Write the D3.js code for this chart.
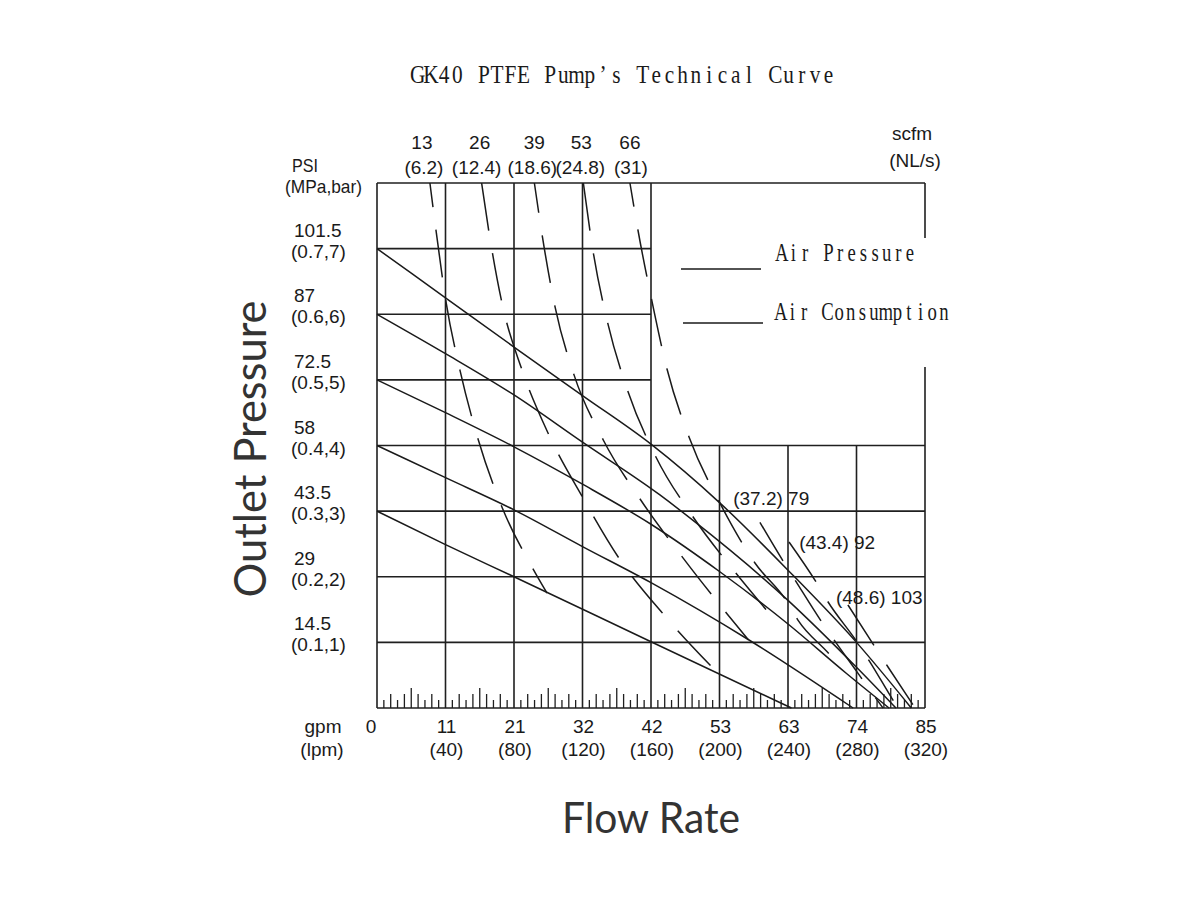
<!DOCTYPE html>
<html>
<head>
<meta charset="utf-8">
<title>GK40 PTFE Pump's Technical Curve</title>
<style>
  body { margin: 0; background: #fff; }
  text { fill: #1a1a1a; }
  .lbl { font-family: "Liberation Sans", Arial, sans-serif; font-size: 19px; }
  .serif { font-family: "Liberation Serif", "DejaVu Serif", serif; }
  .big { font-family: Lato, "Open Sans", sans-serif; fill: #333; }
</style>
</head>
<body>
<div id="chart"></div>
<script src="https://d3js.org/d3.v7.min.js"></script>
<script>

// flow axis: lpm gridlines and the gpm numbers printed above them
const flowTicks = [40, 80, 120, 160, 200, 240, 280, 320];
const gpmTicks = ["11", "21", "32", "42", "53", "63", "74", "85"];

// outlet pressure axis: MPa gridlines, PSI and (MPa,bar) labels
const pressTicks = [0.7, 0.6, 0.5, 0.4, 0.3, 0.2, 0.1];
const psiTicks = ["101.5", "87", "72.5", "58", "43.5", "29", "14.5"];
const barTicks = ["(0.7,7)", "(0.6,6)", "(0.5,5)", "(0.4,4)", "(0.3,3)", "(0.2,2)", "(0.1,1)"];

// air pressure curves, [lpm, MPa]
const press70 = [[0,0.70],[40,0.625],[80,0.55],[120,0.476],[160,0.402],[200,0.313],[240,0.21],[280,0.10],[312,0]];
const press60 = [[0,0.60],[40,0.54],[80,0.477],[120,0.405],[165,0.325],[184,0.287],[240,0.164],[280,0.062],[303,0]];
const press50 = [[0,0.50],[40,0.45],[80,0.398],[120,0.341],[160,0.28],[200,0.208],[240,0.128],[274,0.053],[299,0]];
const press40 = [[0,0.40],[40,0.351],[80,0.302],[120,0.246],[160,0.191],[217,0.104],[278,0]];
const press30 = [[0,0.30],[40,0.249],[80,0.2],[160,0.101],[242,0]];

// air consumption curves, [lpm, MPa]
const scfm13 = [[30.9,0.8],[34.5,0.727],[40.3,0.619],[48.5,0.514],[59,0.41],[73,0.306],[91.1,0.212],[99.3,0.175]];
const scfm26 = [[61.1,0.8],[65.4,0.725],[73,0.617],[84.7,0.515],[100.4,0.416],[120.3,0.32],[141.9,0.226],[168.2,0.14],[198,0.056]];
const scfm39 = [[91.9,0.8],[96.6,0.718],[104,0.611],[115,0.508],[132.2,0.408],[154,0.317],[178.9,0.228],[204.6,0.143],[216.8,0.104]];
const scfm53 = [[120.5,0.8],[126.3,0.694],[134.7,0.587],[146.4,0.4835],[162.3,0.3855],[184.7,0.2906],[210,0.2042],[227.2,0.15]];
const scfm66 = [[147.7,0.8],[152.4,0.728],[160.4,0.622],[169.3,0.517],[182.2,0.413],[201.5,0.306],[220.7,0.221],[239.4,0.162],[245.8,0.134],[264.5,0.081],[270.4,0.0625]];
const scfm79 = [[223.6,0.283],[237.1,0.224],[244.1,0.195],[259.3,0.1326],[267.4,0.102],[280.3,0.055],[287.9,0.027],[295.5,0]];
const scfm92 = [[240.6,0.253],[256.4,0.192],[263.4,0.1615],[280.3,0.1006],[287.9,0.07],[301.3,0.012],[304.2,0]];
const scfm103 = [[275,0.157],[290.8,0.093],[298.4,0.0625],[314.2,0]];

const topCurves = [
  {scfm: "13", nls: "(6.2)", pts: scfm13},
  {scfm: "26", nls: "(12.4)", pts: scfm26},
  {scfm: "39", nls: "(18.6)", pts: scfm39},
  {scfm: "53", nls: "(24.8)", pts: scfm53},
  {scfm: "66", nls: "(31)", pts: scfm66}
];
const innerCurves = [
  {scfm: "79", nls: "(37.2)", pts: scfm79},
  {scfm: "92", nls: "(43.4)", pts: scfm92},
  {scfm: "103", nls: "(48.6)", pts: scfm103}
];

// layout bits: dash phase per consumption line, label nudges and anchors
const topDashOffset = [24, 0, 18, 0, 24];
const innerDashOffset = [3, 0, 0];
const topLabelNudge = [[-8, -6], [-2, -5], [0, -2], [-2, -3], [0, 1]];
const innerLabelAt = [[208, 0.309], [246.5, 0.242], [268, 0.158]];

const svg = d3.select("#chart")
  .append("svg")
    .attr("width", 1200)
    .attr("height", 900);

const x = d3.scaleLinear().domain([0, 320]).range([377, 925]);
const y = d3.scaleLinear().domain([0, 0.8]).range([708, 183]);

const grid = svg.append("g")
  .attr("stroke", "#1f1f1f")
  .attr("stroke-width", 1.6);

// vertical gridlines: full height up to 160 lpm, lower half beyond
flowTicks.slice(0, 7).forEach(v => {
  grid.append("line")
    .attr("x1", x(v)).attr("x2", x(v))
    .attr("y1", y(0)).attr("y2", v <= 160 ? y(0.8) : y(0.4));
});

// horizontal gridlines: upper ones stop at 160 lpm where the legend sits
pressTicks.forEach(p => {
  grid.append("line")
    .attr("x1", x(0)).attr("x2", p > 0.45 ? x(160) : x(320))
    .attr("y1", y(p)).attr("y2", y(p));
});

// frame, the right edge is broken by the legend
grid.append("line").attr("x1", x(0)).attr("x2", x(0)).attr("y1", y(0)).attr("y2", y(0.8));
grid.append("line").attr("x1", x(0)).attr("x2", x(320)).attr("y1", y(0)).attr("y2", y(0));
grid.append("line").attr("x1", x(0)).attr("x2", x(320)).attr("y1", y(0.8)).attr("y2", y(0.8));
grid.append("line").attr("x1", x(320)).attr("x2", x(320)).attr("y1", y(0.8)).attr("y2", 238);
grid.append("line").attr("x1", x(320)).attr("x2", x(320)).attr("y1", 292).attr("y2", 297);
grid.append("line").attr("x1", x(320)).attr("x2", x(320)).attr("y1", 367).attr("y2", y(0));

// minor ticks along the flow axis, every 4 lpm
const minor = d3.range(4, 320, 4).filter(v => v % 40 !== 0);
svg.append("g")
  .selectAll("line")
  .data(minor)
  .join("line")
    .attr("x1", d => x(d)).attr("x2", d => x(d))
    .attr("y1", y(0))
    .attr("y2", d => y(0) - (d % 40 === 20 ? 20 : (d % 8 === 0 ? 14 : 8)))
    .attr("stroke", "#1f1f1f")
    .attr("stroke-width", 1.3);

const line = d3.line()
  .x(d => x(d[0]))
  .y(d => y(d[1]))
  .curve(d3.curveMonotoneX);

// air pressure curves
svg.append("g")
  .selectAll("path")
  .data([press70, press60, press50, press40, press30])
  .join("path")
    .attr("d", line)
    .attr("fill", "none")
    .attr("stroke", "#1a1a1a")
    .attr("stroke-width", 1.5);

// air consumption curves, long dashes
svg.append("g")
  .selectAll("path")
  .data(topCurves.concat(innerCurves))
  .join("path")
    .attr("d", d => line(d.pts))
    .attr("fill", "none")
    .attr("stroke", "#1a1a1a")
    .attr("stroke-width", 1.5)
    .attr("stroke-dasharray", "48 23")
    .attr("stroke-dashoffset", (d, i) => topDashOffset.concat(innerDashOffset)[i]);

// scfm labels above the top frame
const topLbl = svg.append("g").attr("class", "lbl").attr("text-anchor", "middle");
topCurves.forEach((c, i) => {
  topLbl.append("text").attr("x", x(c.pts[0][0]) + topLabelNudge[i][0]).attr("y", 149).text(c.scfm);
  topLbl.append("text").attr("x", x(c.pts[0][0]) + topLabelNudge[i][1]).attr("y", 174).text(c.nls);
});
topLbl.append("text").attr("x", 912).attr("y", 140).text("scfm");
topLbl.append("text").attr("x", 915).attr("y", 167).text("(NL/s)");

// labels of the curves that start inside the plot
innerCurves.forEach((c, i) => {
  svg.append("text")
    .attr("class", "lbl")
    .attr("x", x(innerLabelAt[i][0]))
    .attr("y", y(innerLabelAt[i][1]))
    .text(c.nls + " " + c.scfm);
});

// pressure labels on the left
const leftLbl = svg.append("g").attr("class", "lbl");
leftLbl.append("text").attr("x", 292).attr("y", 172)
  .attr("textLength", 26).attr("lengthAdjust", "spacingAndGlyphs").text("PSI");
leftLbl.append("text").attr("x", 285).attr("y", 193)
  .attr("textLength", 77).attr("lengthAdjust", "spacingAndGlyphs").text("(MPa,bar)");
pressTicks.forEach((p, i) => {
  leftLbl.append("text").attr("x", 294).attr("y", y(p) - 12).text(psiTicks[i]);
  leftLbl.append("text").attr("x", 291).attr("y", y(p) + 9).text(barTicks[i]);
});

// flow labels below
const botLbl = svg.append("g").attr("class", "lbl").attr("text-anchor", "middle");
botLbl.append("text").attr("x", 323).attr("y", 733).text("gpm");
botLbl.append("text").attr("x", 322).attr("y", 756).text("(lpm)");
botLbl.append("text").attr("x", x(0) - 6).attr("y", 733).text("0");
flowTicks.forEach((v, i) => {
  botLbl.append("text").attr("x", x(v) + 1).attr("y", 733).text(gpmTicks[i]);
  botLbl.append("text").attr("x", x(v) + 1).attr("y", 756).text("(" + v + ")");
});

// serif text set in fixed-width cells, like the original CJK system font
function monoText(str, x0, base, cell, size, sx) {
  svg.append("text")
    .attr("class", "serif")
    .attr("font-size", size + "px")
    .attr("text-anchor", "middle")
    .attr("transform", `translate(0, ${base}) scale(${sx}, 1)`)
    .attr("x", Array.from(str, (c, i) => ((x0 + cell * (i + 0.5)) / sx).toFixed(2)).join(" "))
    .attr("y", 0)
    .text(str);
}

// legend
svg.append("rect")
  .attr("x", 770).attr("y", 238).attr("width", 190).attr("height", 129)
  .attr("fill", "#fff");
svg.append("line")
  .attr("x1", 681).attr("x2", 761).attr("y1", 269).attr("y2", 269)
  .attr("stroke", "#1a1a1a").attr("stroke-width", 1.5);
svg.append("line")
  .attr("x1", 683).attr("x2", 763).attr("y1", 323).attr("y2", 323)
  .attr("stroke", "#1a1a1a").attr("stroke-width", 1.5);
monoText("Air Pressure", 776, 261, 11.65, 26, 0.72);
monoText("Air Consumption", 775, 320, 11.65, 26, 0.72);

// title
monoText("GK40 PTFE Pump\u2019s Technical Curve", 411, 83, 13.25, 26, 0.82);

// axis titles
svg.append("text")
  .attr("class", "big")
  .attr("transform", "translate(266, 449) rotate(-90)")
  .attr("text-anchor", "middle")
  .attr("font-size", "44px")
  .attr("textLength", 297).attr("lengthAdjust", "spacingAndGlyphs")
  .text("Outlet Pressure");

svg.append("text")
  .attr("class", "big")
  .attr("x", 651).attr("y", 833)
  .attr("text-anchor", "middle")
  .attr("font-size", "42px")
  .attr("textLength", 178).attr("lengthAdjust", "spacingAndGlyphs")
  .text("Flow Rate");

</script>
</body>
</html>
